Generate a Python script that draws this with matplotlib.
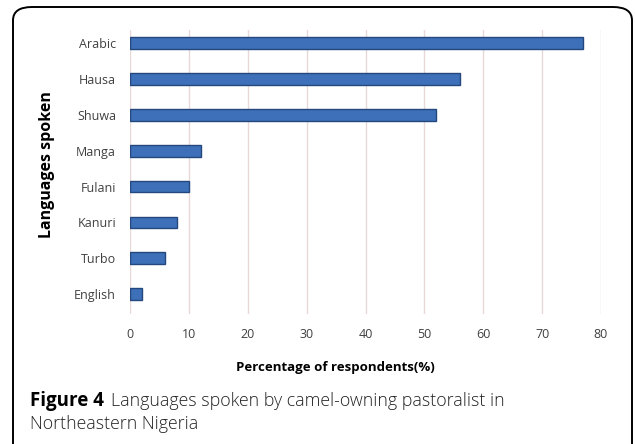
import matplotlib
matplotlib.use("Agg")
import matplotlib.pyplot as plt
from matplotlib.patches import FancyBboxPatch

languages = ["English", "Turbo", "Kanuri", "Fulani", "Manga", "Shuwa", "Hausa", "Arabic"]
percentages = [2, 6, 8, 10, 12, 52, 56, 77]
xticks = [0, 10, 20, 30, 40, 50, 60, 70, 80]

W, H = 635, 444
fig = plt.figure(figsize=(W / 100, H / 100), dpi=100)

def fx(px):
    return px / W

def fy(py):
    return 1 - py / H

# rounded border
border = FancyBboxPatch((fx(13), fy(470)), fx(632) - fx(13), fy(7) - fy(470),
                        boxstyle="round,pad=0,rounding_size=0.03",
                        transform=fig.transFigure, fill=False,
                        edgecolor="black", linewidth=1.4, clip_on=False)
fig.patches.append(border)

ax = fig.add_axes([fx(130), fy(314), fx(601) - fx(130), fy(30) - fy(314)])
ypos = list(range(len(languages)))
ax.barh(ypos, percentages, height=0.33, color="#3D70B8",
        edgecolor="#24487E", linewidth=1.0, zorder=3)
ax.set_xlim(0, 80)
ax.set_ylim(-0.55, 7.36)
ax.set_xticks(xticks)
ax.set_xticklabels([str(t) for t in xticks], fontsize=9, color="#404040",
                   family="Open Sans")
ax.set_yticks(ypos)
ax.set_yticklabels(languages, fontsize=9, color="#404040", family="Open Sans")
ax.tick_params(axis="both", length=0)
ax.tick_params(axis="x", pad=10)
ax.tick_params(axis="y", pad=10)
ax.grid(axis="x", color="#E8D8D8", linewidth=1.0, zorder=0)
for s in ax.spines.values():
    s.set_visible(False)

fig.text(fx(335), fy(368), "Percentage of respondents(%)", ha="center",
         va="center", fontsize=9.5, fontweight="bold", family="Open Sans")
fig.text(fx(47), fy(165), "Languages spoken", ha="center", va="center",
         rotation=90, fontsize=11.5, fontweight="bold", family="Open Sans")

fig.text(fx(30), fy(401), "Figure 4", ha="left", va="center", fontsize=13.5,
         fontweight="bold", family="Open Sans")
fig.text(fx(111), fy(401), "Languages spoken by camel-owning pastoralist in",
         ha="left", va="center", fontsize=12.8, fontweight="light",
         family="Open Sans", color="#222222")
fig.text(fx(30), fy(424), "Northeastern Nigeria", ha="left", va="center",
         fontsize=12.8, fontweight="light", family="Open Sans", color="#222222")

fig.savefig("out.png", dpi=100)
